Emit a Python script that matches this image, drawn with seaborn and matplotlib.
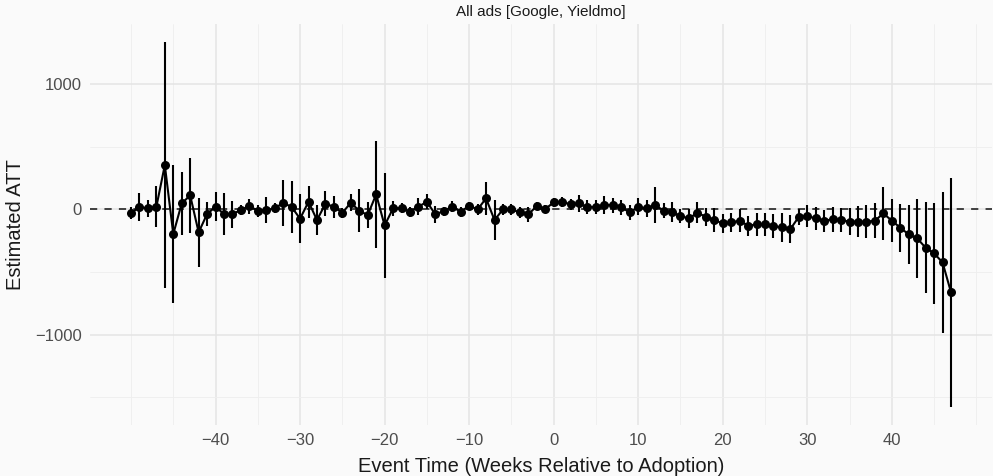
import numpy as np
import pandas as pd
import matplotlib
matplotlib.use("Agg")
import matplotlib.pyplot as plt
from matplotlib.ticker import MultipleLocator, FixedLocator
import seaborn as sns

# ---- data ----
event_time = list(range(-50, 48))
att = [-30, 20, 8, 21, 354, -197, 48, 112, -183, -37,
       21, -37, -37, -5, 27, -11, -5, 8, 53, 19,
       -74, 61, -85, 45, 21, -27, 53, -11, -45, 120,
       -128, 8, 11, -19, 21, 61, -40, -13, 21, -19,
       29, 0, 88, -85, 0, 0, -24, -40, 27, 3,
       56, 61, 40, 48, 16, 21, 35, 35, 16, -24,
       21, 8, 35, -10, -24, -53, -72, -27, -59, -85,
       -112, -104, -90, -130, -120, -120, -133, -144, -157, -59,
       -53, -72, -90, -80, -85, -98, -98, -98, -90, -32,
       -90, -146, -200, -231, -306, -351, -423, -662]
ci_half = [46, 109, 68, 163, 981, 552, 250, 302, 277, 93,
           116, 165, 108, 40, 60, 47, 106, 40, 182, 206,
           198, 126, 120, 101, 90, 40, 67, 173, 105, 428,
           416, 62, 40, 40, 67, 60, 67, 36, 43, 40,
           33, 47, 133, 160, 43, 43, 47, 57, 35, 35,
           33, 40, 47, 69, 56, 56, 75, 60, 60, 58,
           69, 66, 143, 60, 80, 53, 73, 83, 73, 93,
           73, 73, 93, 80, 93, 93, 93, 113, 113, 63,
           87, 93, 89, 97, 96, 110, 122, 132, 140, 210,
           170, 193, 235, 313, 363, 404, 562, 914]

x_ticks = [-40, -30, -20, -10, 0, 10, 20, 30, 40]
y_ticks = [-1000, 0, 1000]
title = "All ads [Google, Yieldmo]"
x_label = "Event Time (Weeks Relative to Adoption)"
y_label = "Estimated ATT"

df = pd.DataFrame({"t": event_time, "att": att, "hw": ci_half})
df["lo"] = df["att"] - df["hw"]
df["hi"] = df["att"] + df["hw"]

sns.set_theme(style="white")
plt.rcParams["font.family"] = ["Liberation Sans", "DejaVu Sans"]

bg = "#fafafa"
fig = plt.figure(figsize=(9.93, 4.76), dpi=100, facecolor=bg)
ax = fig.add_axes([90 / 993, 1 - 425 / 476, (992 - 90) / 993, (425 - 24) / 476])
ax.set_facecolor(bg)

ax.axhline(0, color="#333333", lw=1.3, ls=(0, (4, 4)), zorder=1)
ax.vlines(df["t"], df["lo"], df["hi"], color="black", lw=1.5, zorder=3)
sns.lineplot(data=df, x="t", y="att", ax=ax, color="black", lw=1.5,
             marker="o", markersize=6.5, markeredgewidth=0, zorder=4)

ax.xaxis.set_major_locator(FixedLocator(x_ticks))
ax.xaxis.set_minor_locator(MultipleLocator(5))
ax.yaxis.set_major_locator(FixedLocator(y_ticks))
ax.yaxis.set_minor_locator(MultipleLocator(500))
ax.grid(which="major", color="#e4e4e4", lw=1.1, zorder=0)
ax.grid(which="minor", color="#eeeeee", lw=0.6, zorder=0)
ax.set_axisbelow(True)
for s in ax.spines.values():
    s.set_visible(False)
ax.tick_params(which="both", length=0)
ax.tick_params(axis="both", labelsize=12, labelcolor="#4d4d4d", pad=6)
ax.set_xticklabels([f"{v}".replace("-", "\u2212") for v in x_ticks])
ax.set_yticklabels([f"{v}".replace("-", "\u2212") for v in y_ticks])

ax.set_xlabel(x_label, fontsize=14.5, color="#1a1a1a", labelpad=6)
ax.set_ylabel(y_label, fontsize=14.5, color="#1a1a1a", labelpad=7)
ax.set_title(title, fontsize=11, color="#1a1a1a", pad=6)

fig.savefig("out.png", dpi=100, facecolor=bg)
